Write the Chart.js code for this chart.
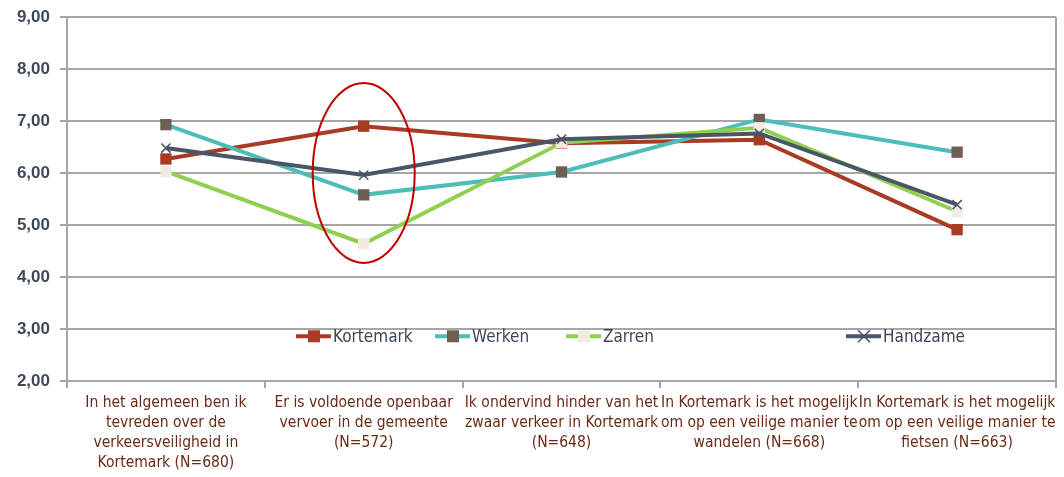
<!DOCTYPE html>
<html>
<head>
<meta charset="utf-8">
<script src="https://cdn.jsdelivr.net/npm/chart.js@4.4.1/dist/chart.umd.min.js"></script>
<style>
  html, body { margin: 0; padding: 0; background: #fff; }
  #wrap { width: 1064px; height: 477px; }
</style>
</head>
<body>
<div id="wrap"><canvas id="chart"></canvas></div>
<script>
// categories (multi-line labels as in the source)
const categories = [
    ['In het algemeen ben ik', 'tevreden over de', 'verkeersveiligheid in', 'Kortemark (N=680)'],
    ['Er is voldoende openbaar', 'vervoer in de gemeente', '(N=572)'],
    ['Ik ondervind hinder van het', 'zwaar verkeer in Kortemark', '(N=648)'],
    ['In Kortemark is het mogelijk', 'om op een veilige manier te', 'wandelen (N=668)'],
    ['In Kortemark is het mogelijk', 'om op een veilige manier te', 'fietsen (N=663)']
];

const kortemark = [6.27, 6.90, 6.57, 6.64, 4.91];
const werken    = [6.93, 5.58, 6.02, 7.03, 6.40];
const zarren    = [6.03, 4.64, 6.58, 6.87, 5.26];
const handzame  = [6.48, 5.96, 6.65, 6.76, 5.39];

const seriesNames = ['Kortemark', 'Werken', 'Zarren', 'Handzame'];

const yMin = 2, yMax = 9, yStep = 1;

const font = "'Liberation Sans Narrow', 'DejaVu Sans Condensed', 'Liberation Sans', sans-serif";

// legend x positions (left of marker line) and the highlighted category
const legendX = [296, 435, 566, 846];
const highlight = 1;

const customPlugin = {
    id: 'extras',
    afterDraw(chart) {
        const c = chart.ctx;
        const area = chart.chartArea;
        const x = chart.scales.x, y = chart.scales.y;

        // right border line
        c.save();
        c.strokeStyle = '#a6a6a6';
        c.lineWidth = 2;
        c.beginPath();
        c.moveTo(area.right, area.top);
        c.lineTo(area.right, area.bottom + 6);
        c.stroke();

        // red ellipse around category 2
        const cx = x.getPixelForValue(highlight);
        const top = y.getPixelForValue(7.73);
        const bot = y.getPixelForValue(4.27);
        c.strokeStyle = '#c00000';
        c.lineWidth = 2;
        c.beginPath();
        c.ellipse(cx, (top + bot) / 2, 51, (bot - top) / 2, 0, 0, Math.PI * 2);
        c.stroke();

        // legend inside the plot
        const ly = y.getPixelForValue(2.86);
        c.font = '17px ' + font;
        c.textBaseline = 'middle';
        chart.data.datasets.forEach((ds, i) => {
            const lx = legendX[i];
            c.strokeStyle = ds.borderColor;
            c.lineWidth = 4;
            c.beginPath();
            c.moveTo(lx, ly);
            c.lineTo(lx + 35, ly);
            c.stroke();
            const px = lx + 18;
            if (ds.pointStyle === 'crossRot') {
                c.strokeStyle = ds.pointBorderColor;
                c.lineWidth = 1.5;
                c.beginPath();
                c.moveTo(px - 6, ly - 6); c.lineTo(px + 6, ly + 6);
                c.moveTo(px + 6, ly - 6); c.lineTo(px - 6, ly + 6);
                c.stroke();
            } else {
                c.fillStyle = ds.pointBackgroundColor;
                c.fillRect(px - 6, ly - 6, 12, 12);
            }
            c.fillStyle = '#3b4656';
            c.fillText(ds.label, lx + 37, ly + 1);
        });
        c.restore();
    }
};

function makeSet(label, data, line, point, style, order) {
    return {
        label: label,
        data: data,
        borderColor: line,
        borderWidth: 4,
        pointStyle: style,
        pointRadius: style === 'crossRot' ? 6.5 : 8,
        pointBackgroundColor: point,
        pointBorderColor: point,
        pointBorderWidth: style === 'crossRot' ? 1.5 : 0,
        tension: 0,
        fill: false,
        order: order
    };
}

new Chart(document.getElementById('chart').getContext('2d'), {
    type: 'line',
    data: {
        labels: categories,
        datasets: [
            makeSet(seriesNames[0], kortemark, '#a93a24', '#a93a24', 'rect', 4),
            makeSet(seriesNames[1], werken, '#4dbdb7', '#6f5e54', 'rect', 3),
            makeSet(seriesNames[2], zarren, '#8fd14f', '#f1ebe4', 'rect', 2),
            makeSet(seriesNames[3], handzame, '#4a5566', '#4a5566', 'crossRot', 1)
        ]
    },
    options: {
        responsive: true,
        maintainAspectRatio: false,
        animation: false,
        layout: { padding: { top: 17, right: 6, left: 0, bottom: 0 } },
        plugins: {
            legend: { display: false },
            tooltip: { enabled: false }
        },
        scales: {
            x: {
                offset: true,
                grid: {
                    offset: true,
                    drawOnChartArea: false,
                    drawTicks: true,
                    tickLength: 7,
                    color: '#a6a6a6',
                    lineWidth: 2
                },
                border: { color: '#a6a6a6', width: 2 },
                ticks: {
                    maxRotation: 0,
                    autoSkip: false,
                    padding: 5,
                    color: '#6b2a16',
                    font: { family: font, size: 15.5, lineHeight: 1.29 }
                },
                afterFit: s => { s.height = 96; s.paddingLeft = 0; s.paddingRight = 0; }
            },
            y: {
                min: yMin,
                max: yMax,
                ticks: {
                    stepSize: yStep,
                    padding: 10,
                    color: '#3e4a5c',
                    font: { family: "'Liberation Sans', sans-serif", size: 17, weight: 'bold' },
                    callback: v => v.toFixed(2).replace('.', ',')
                },
                grid: {
                    color: '#a6a6a6',
                    lineWidth: 2,
                    tickLength: 7
                },
                border: { color: '#a6a6a6', width: 2 },
                afterFit: s => { s.width = 67; s.paddingTop = 0; s.paddingBottom = 0; }
            }
        }
    },
    plugins: [customPlugin]
});
</script>
</body>
</html>
